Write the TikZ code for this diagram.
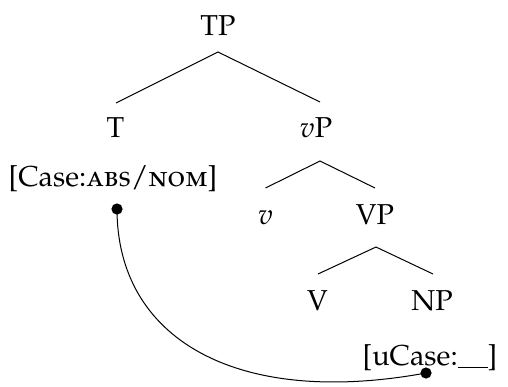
\documentclass[tikz,border=0pt]{standalone}
\usepackage[T1]{fontenc}
\usepackage[sc]{mathpazo}
\usetikzlibrary{calc}

\begin{document}
\begin{tikzpicture}[x=0.5pt,y=-0.5pt,
  lbl/.style={anchor=base,inner sep=0pt,font=\fontsize{14.4}{17}\selectfont},
  branch/.style={line width=0.5pt},
  agree/.style={line width=0.5pt},
  dot/.style={circle,fill=black,inner sep=0pt,minimum size=5.6pt}]
\useasboundingbox (0,0) rectangle (508,386);

% tree labels
\node[lbl] (TP) at (218,35) {TP};
\node[lbl] (T)  at (115.5,137) {T};
\node[lbl] (vP) at (316,137) {$v$P};
\node[lbl] (v)  at (265.5,224) {$v$};
\node[lbl] (VP) at (375,224) {VP};
\node[lbl] (V)  at (317.5,310) {V};
\node[lbl] (NP) at (432,310) {NP};

% feature bundles
\node[lbl] (f1) at (113,186) {[Case:\textsc{abs}/\textsc{nom}]};
\node[lbl] (f2) at (430,365) {[uCase:\rule[-1.5pt]{15pt}{0.5pt}]};

% branches
\draw[branch] ($(T.base)+(0.5,-34)$) -- ($(TP.base)+(0,17)$) -- ($(vP.base)+(4,-35)$);
\draw[branch] ($(v.base)+(0,-36)$) -- ($(vP.base)+(4,24)$) -- ($(VP.base)+(0,-36)$);
\draw[branch] ($(V.base)+(0.5,-36)$) -- ($(VP.base)+(1,23)$) -- ($(NP.base)+(1,-36)$);

% agreement link
\node[dot] (d1) at (117,209) {};
\node[dot] (d2) at (426,373) {};
\draw[agree] (d1.center) .. controls (117,338) and (235,408) .. (d2.center);
\end{tikzpicture}
\end{document}
